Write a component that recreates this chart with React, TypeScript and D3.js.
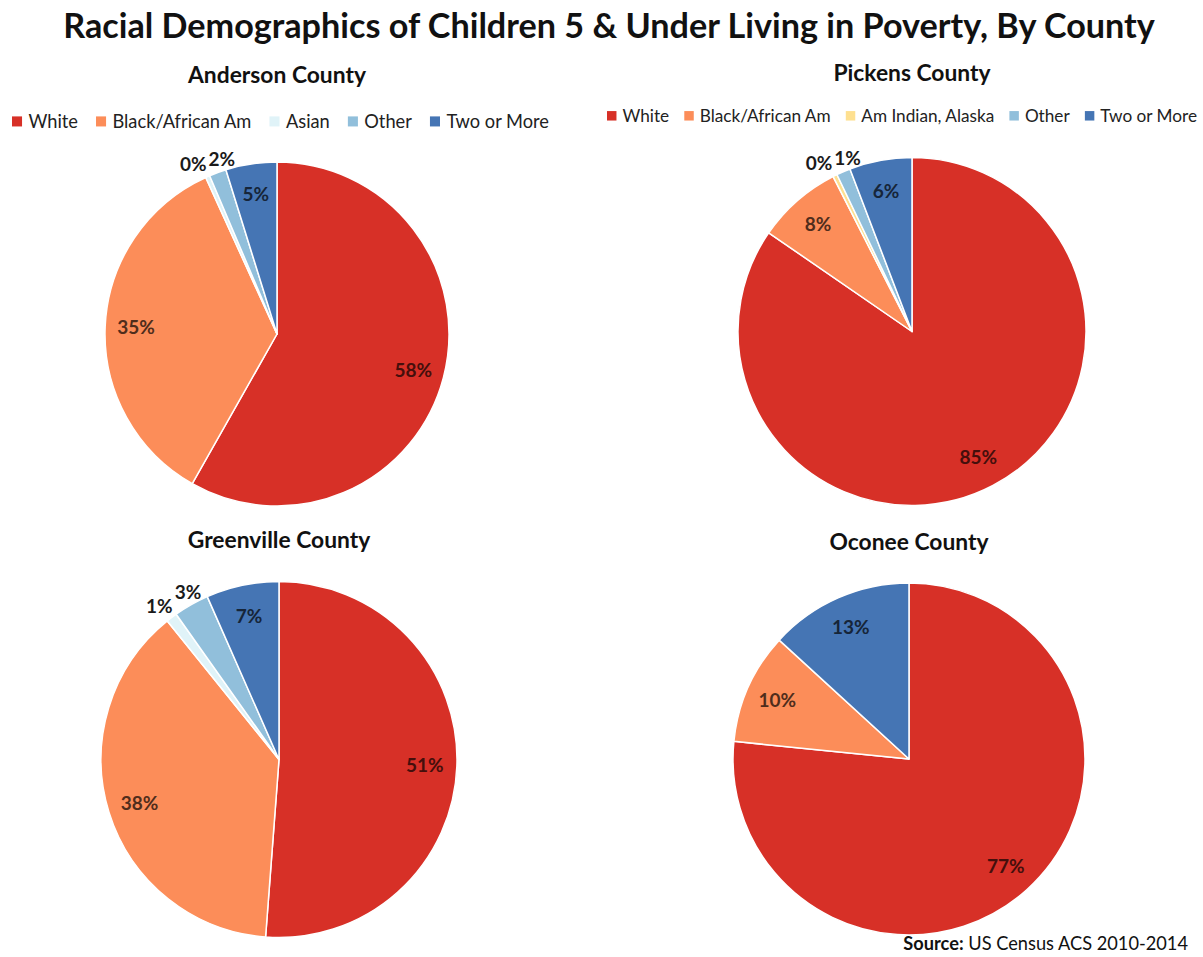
import React, { useEffect, useRef } from "react";
import * as d3 from "d3";

const chartTitle = "Racial Demographics of Children 5 & Under Living in Poverty, By County";
const sourceLabel = "Source:";
const sourceText = " US Census ACS 2010-2014";

const raceNames = ["White", "Black/African Am", "Am Indian, Alaska", "Asian", "Other", "Two or More"];
const raceColorList = ["#d73027", "#fc8d59", "#fee090", "#e0f3f8", "#91bfdb", "#4575b4"];

const countyNames = ["Anderson County", "Pickens County", "Greenville County", "Oconee County"];

const andersonCategories = ["White", "Black/African Am", "Asian", "Other", "Two or More"];
const andersonValues = [58.2, 35.0, 0.4, 1.6, 4.8];

const pickensCategories = ["White", "Black/African Am", "Am Indian, Alaska", "Other", "Two or More"];
const pickensValues = [84.6, 7.9, 0.4, 1.3, 5.8];

const greenvilleCategories = ["White", "Black/African Am", "Asian", "Other", "Two or More"];
const greenvilleValues = [51.2, 38.0, 1.0, 3.2, 6.6];

const oconeeCategories = ["White", "Black/African Am", "Two or More"];
const oconeeValues = [76.6, 10.2, 13.2];

const countyCategories = [andersonCategories, pickensCategories, greenvilleCategories, oconeeCategories];
const countyValues = [andersonValues, pickensValues, greenvilleValues, oconeeValues];

// layout (positions, not data)
const layout = [
  { cx: 277, cy: 334, r: 172, titleY: 83, legend: true, legendY: 128, legendWidth: 139, legendX0: 12, legendX1: 549 },
  { cx: 912, cy: 331.5, r: 174, titleY: 81, legend: true, legendY: 122, legendWidth: 131, legendX0: 607, legendX1: 1197 },
  { cx: 279, cy: 759.5, r: 178, titleY: 548, legend: false, legendY: 0, legendWidth: 0, legendX0: 0, legendX1: 0 },
  { cx: 909, cy: 759, r: 176, titleY: 550, legend: false, legendY: 0, legendWidth: 0, legendX0: 0, legendX1: 0 },
];

const FONT = "Lato, 'Open Sans', sans-serif";
const W = 1203;
const H = 957;

export default function App() {
  const ref = useRef<SVGSVGElement | null>(null);

  useEffect(() => {
    const svg = d3.select(ref.current);
    svg.selectAll("*").remove();
    const color = d3.scaleOrdinal<string, string>().domain(raceNames).range(raceColorList);
    const len = (s: d3.Selection<SVGTextElement, unknown, null, undefined>) =>
      (s.node() as SVGTextElement).getComputedTextLength();

    // Title fitted to target width
    const title = svg
      .append("text")
      .attr("x", 609)
      .attr("y", 38)
      .attr("text-anchor", "middle")
      .attr("font-family", FONT)
      .attr("font-weight", 700)
      .attr("font-size", 30)
      .attr("fill", "#111")
      .text(chartTitle);
    title.attr("font-size", (30 * 1092) / len(title));

    // county title size from Anderson width
    const probe = svg
      .append("text")
      .attr("font-family", FONT)
      .attr("font-weight", 700)
      .attr("font-size", 20)
      .text(countyNames[0]);
    const countyFont = (20 * 178) / len(probe);
    probe.remove();

    const pie = d3
      .pie<number>()
      .sort(null)
      .value((d) => d)
      .startAngle(0)
      .endAngle(2 * Math.PI);

    countyNames.forEach((name, idx) => {
      const L = layout[idx];
      const cats = countyCategories[idx];
      const vals = countyValues[idx];

      svg
        .append("text")
        .attr("x", L.cx)
        .attr("y", L.titleY)
        .attr("text-anchor", "middle")
        .attr("font-family", FONT)
        .attr("font-weight", 700)
        .attr("font-size", countyFont)
        .attr("fill", "#111")
        .text(name);

      // legend
      if (L.legend) {
        const lp = svg.append("text").attr("font-family", FONT).attr("font-size", 16).text("Black/African Am");
        const fs = (16 * L.legendWidth) / len(lp);
        lp.remove();
        const g = svg.append("g");
        const sq = fs * 0.55;
        const pad = fs * 0.35;
        const items = cats.map((c) => {
          const r = g
            .append("rect")
            .attr("y", L.legendY - fs * 0.36 - sq / 2)
            .attr("width", sq)
            .attr("height", sq)
            .attr("fill", color(c));
          const t = g
            .append("text")
            .attr("y", L.legendY)
            .attr("font-family", FONT)
            .attr("font-size", fs)
            .attr("fill", "#222")
            .text(c);
          return { r, t, w: sq + pad + len(t) };
        });
        const sum = d3.sum(items, (d) => d.w);
        const gap = (L.legendX1 - L.legendX0 - sum) / (items.length - 1);
        let x = L.legendX0;
        items.forEach((it) => {
          it.r.attr("x", x);
          it.t.attr("x", x + sq + pad);
          x += it.w + gap;
        });
      }

      const arcs = pie(vals);
      const arc = d3.arc<d3.PieArcDatum<number>>().innerRadius(0).outerRadius(L.r);
      const pg = svg.append("g").attr("transform", `translate(${L.cx},${L.cy})`);
      pg.selectAll("path")
        .data(arcs)
        .join("path")
        .attr("d", arc)
        .attr("fill", (_d, i) => color(cats[i]))
        .attr("stroke", "#fff")
        .attr("stroke-width", 1.5)
        .attr("stroke-linejoin", "round");

      // labels
      const labelFont = 19;
      type Lab = { x: number; y: number; w: number; t: d3.Selection<SVGTextElement, unknown, null, undefined> };
      const outside: Lab[] = [];
      arcs.forEach((a, i) => {
        const v = vals[i];
        const mid = (a.startAngle + a.endAngle) / 2;
        const isOut = v < 4;
        const rr = isOut ? L.r * 1.08 : L.r * 0.82;
        const x = L.cx + rr * Math.sin(mid);
        const y = L.cy - rr * Math.cos(mid);
        const base = d3.color(color(cats[i]))!;
        const fill = isOut ? "#1a1a1a" : base.darker(3.2).formatHex();
        const t = svg
          .append("text")
          .attr("x", x)
          .attr("y", y)
          .attr("dy", "0.35em")
          .attr("text-anchor", "middle")
          .attr("font-family", FONT)
          .attr("font-weight", 700)
          .attr("font-size", labelFont)
          .attr("fill", fill)
          .text(`${Math.round(v)}%`);
        if (isOut) outside.push({ x, y, w: len(t), t });
      });
      // resolve overlaps among outside labels
      outside.sort((a, b) => a.x - b.x);
      for (let pass = 0; pass < 10; pass++) {
        for (let i = 0; i < outside.length; i++) {
          for (let j = i + 1; j < outside.length; j++) {
            const A = outside[i];
            const B = outside[j];
            const need = (A.w + B.w) / 2 + 2;
            const dx = B.x - A.x;
            if (dx < need && Math.abs(B.y - A.y) < labelFont) {
              const o = (need - dx) / 2;
              A.x -= o;
              B.x += o;
            }
          }
        }
      }
      outside.forEach((l) => l.t.attr("x", l.x));
    });

    // source, fitted to its span
    const src = svg
      .append("text")
      .attr("x", 1188)
      .attr("y", 950)
      .attr("text-anchor", "end")
      .attr("font-family", FONT)
      .attr("font-size", 15)
      .attr("fill", "#111");
    src.append("tspan").attr("font-weight", 700).text(sourceLabel);
    src.append("tspan").text(sourceText);
    src.attr("font-size", (15 * 285) / len(src));
  }, []);

  return (
    <svg
      ref={ref}
      width={W}
      height={H}
      style={{ position: "absolute", left: 0, top: 0, display: "block", background: "#fff" }}
    />
  );
}
